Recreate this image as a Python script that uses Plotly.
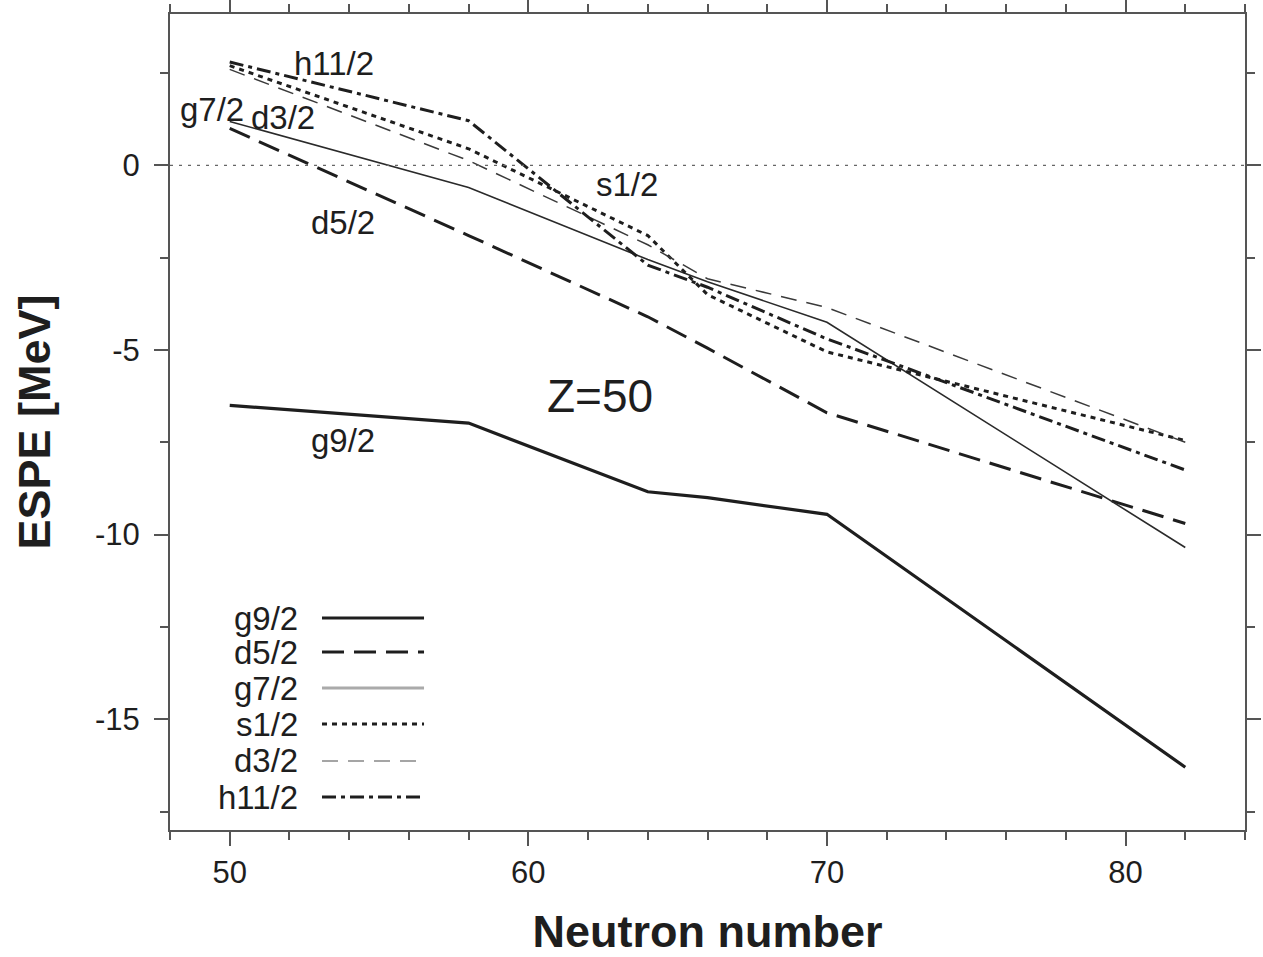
import plotly.graph_objects as go

# Neutron numbers at which the effective single-particle energies are evaluated
neutron_number = [50, 58, 64, 66, 70, 82]

# ESPE values (MeV) for each neutron orbit, Z=50
espe_g9 = [-6.5, -6.98, -8.84, -9.0, -9.45, -16.3]
espe_d5 = [1.0, -1.9, -4.1, -4.95, -6.7, -9.7]
espe_g7 = [1.19, -0.6, -2.55, -3.15, -4.25, -10.35]
espe_s1 = [2.7, 0.45, -1.9, -3.5, -5.05, -7.45]
espe_d3 = [2.6, 0.13, -2.15, -3.07, -3.85, -7.5]
espe_h11 = [2.8, 1.21, -2.7, -3.3, -4.7, -8.25]

orbit_names = ["g9/2", "d5/2", "g7/2", "s1/2", "d3/2", "h11/2"]
orbit_values = [espe_g9, espe_d5, espe_g7, espe_s1, espe_d3, espe_h11]

# axis ticks
x_tickvals = [50, 60, 70, 80]
x_ticktext = ["50", "60", "70", "80"]
y_tickvals = [0, -5, -10, -15]
y_ticktext = ["0", "-5", "-10", "-15"]

# line style per orbit: (color, width, dash)
styles = {
    "g9/2": ("#1e1e1e", 3.2, "solid"),
    "d5/2": ("#1e1e1e", 3.0, "22px,10px"),
    "g7/2": ("#2a2a2a", 1.6, "solid"),
    "s1/2": ("#1e1e1e", 3.0, "5px,5px"),
    "d3/2": ("#3a3a3a", 1.5, "16px,10px"),
    "h11/2": ("#1e1e1e", 3.0, "14px,5px,4px,5px"),
}
legend_colors = {"g7/2": "#aaaaaa", "d3/2": "#888888"}

# in-plot orbit labels (data coordinates)
label_text = ["h11/2", "g7/2", "d3/2", "s1/2", "d5/2", "g9/2"]
label_x = [53.5, 49.4, 51.8, 63.3, 53.8, 53.8]
label_y = [2.75, 1.52, 1.29, -0.51, -1.56, -7.44]

FONT = "Liberation Sans, Arial, sans-serif"

fig = go.Figure()

for name, vals in zip(orbit_names, orbit_values):
    color, width, dash = styles[name]
    fig.add_trace(go.Scatter(
        x=neutron_number, y=vals, mode="lines", name=name,
        line=dict(color=color, width=width, dash=dash),
        showlegend=False,
    ))

# dotted zero line
fig.add_shape(type="line", xref="paper", yref="y", x0=0, x1=1, y0=0, y1=0,
              line=dict(color="#666666", width=1.3, dash="3px,6px"))

# orbit labels
for t, x, y in zip(label_text, label_x, label_y):
    fig.add_annotation(x=x, y=y, text=t, showarrow=False,
                       font=dict(family=FONT, size=33, color="#1e1e1e"))

fig.add_annotation(x=62.4, y=-6.25, text="Z=50", showarrow=False,
                   font=dict(family=FONT, size=46, color="#1e1e1e"))

# key: labels on the left, line samples on the right
row_y = [0.2598, 0.2181, 0.174, 0.1299, 0.0846, 0.0404]
for name, ry in zip(orbit_names, row_y):
    color, width, dash = styles[name]
    color = legend_colors.get(name, color)
    fig.add_annotation(xref="paper", yref="paper", x=0.121, y=ry, text=name,
                       xanchor="right", yanchor="middle", showarrow=False,
                       font=dict(family=FONT, size=33, color="#1e1e1e"))
    fig.add_shape(type="line", xref="paper", yref="paper",
                  x0=0.1414, x1=0.2363, y0=ry, y1=ry,
                  line=dict(color=color, width=width if name != "g7/2" else 3, dash=dash))

axis_common = dict(
    showline=True, linecolor="#555555", linewidth=2, mirror="ticks",
    ticks="outside", ticklen=14, tickwidth=1.5, tickcolor="#555555",
    tickfont=dict(family=FONT, size=31, color="#1e1e1e"),
    showgrid=False, zeroline=False, automargin=False,
)

fig.update_xaxes(
    range=[48, 84], tickvals=x_tickvals, ticktext=x_ticktext,
    minor=dict(dtick=2, tick0=48, ticklen=8, tickcolor="#555555", ticks="outside", tickwidth=1.5),
    title=dict(text="<b>Neutron number</b>", font=dict(family=FONT, size=45, color="#1e1e1e"), standoff=28),
    **axis_common,
)
fig.update_yaxes(
    range=[-18, 4.1], tickvals=y_tickvals, ticktext=y_ticktext,
    minor=dict(dtick=2.5, tick0=0, ticklen=8, tickcolor="#555555", ticks="outside", tickwidth=1.5),
    title=dict(text="<b>ESPE [MeV]</b>", font=dict(family=FONT, size=45, color="#1e1e1e"), standoff=30),
    ticklabelstandoff=8,
    **axis_common,
)

fig.update_layout(
    width=1263, height=957,
    margin=dict(l=170, r=18, t=14, b=127),
    plot_bgcolor="white", paper_bgcolor="white",
    showlegend=False,
)

fig.write_html("out.html")
